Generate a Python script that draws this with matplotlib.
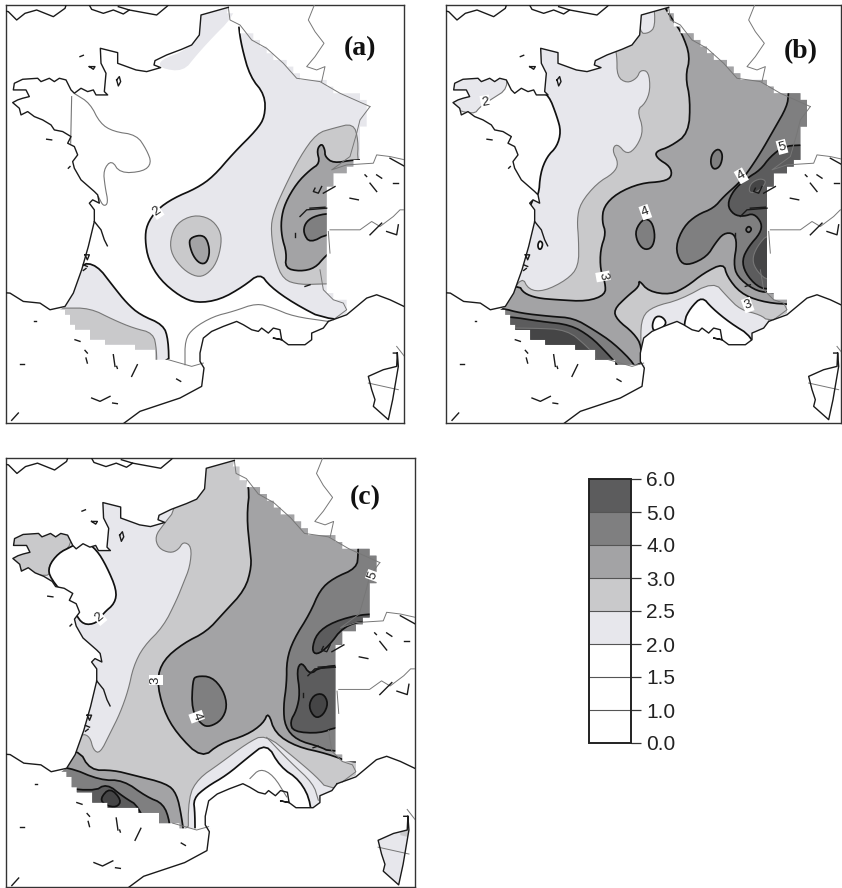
import numpy as np
import matplotlib
matplotlib.use("Agg")
import matplotlib.pyplot as plt
from matplotlib.colors import ListedColormap, BoundaryNorm
from matplotlib.cm import ScalarMappable
from matplotlib.patches import Polygon

# ---------- shared base map (panel (a) crop units) ----------
ATLANTIC = [(685,22),(603,45),(598,105),(575,135),(545,148),(500,165),(465,182),(462,195),(482,203),(440,215),
            (408,210),(353,190),(353,158),(301,145),(303,190),(318,220),(313,275),(323,285),(288,285),(280,270),
            (263,275),(243,265),(223,280),(213,270),(198,240),(178,235),(163,245),(148,235),(123,245),(113,235),
            (68,238),(43,250),(40,270),(63,270),(78,270),(88,290),(68,295),(53,300),(38,308),(58,325),(63,345),
            (83,335),(103,350),(128,360),(153,375),(163,390),(188,395),(213,410),(203,430),(223,440),(233,465),
            (218,485),(223,505),(243,540),(283,575),(293,585),(298,610),(278,600),(268,610),(283,630),(283,665),
            (265,740),(245,810),(220,880),(195,920)]
EAST_STAIR = [(685,30),(700,65),(730,95),(770,125),(800,145),(845,185),(885,225),(930,240),(980,250),(1020,280),
              (1080,280),(1112,320),(1095,375),(1080,410),(1080,490),(1060,490),(1020,520),(985,560),(985,620),
              (988,640),(988,880),(1040,915),(1050,935)]
MED = [(985,965),(970,985),(935,1000),(935,1020),(915,1035),(890,1035),(865,1035),(845,1020),(820,1015),(845,1020),
       (840,990),(820,985),(805,1000),(785,985),(775,995),(755,990),(730,975),(710,965),(670,980),(635,995),(610,1015),
       (600,1060),(600,1085),(612,1105)]
PYRENEES_STAIR = [(612,1100),(580,1095),(510,1085),(470,1078),(465,1050),(380,1040),(280,1020),(260,990),(210,980),
                  (205,945),(185,925)]
SPAIN_N = [(195,920),(150,930),(120,910),(70,905),(30,880),(0,878)]
SPAIN_E = [(612,1105),(605,1160),(540,1195),(420,1235),(370,1272)]
RIVIERA = [(985,965),(1040,945),(1100,895),(1130,885),(1170,900),(1212,920),(1280,950)]
GIRONDE = [(283,665),(303,690),(313,720),(322,738)]
ENGLAND = [[(0,30),(25,35),(50,60),(75,40),(110,30),(160,50),(195,25),(200,10)],
           [(265,10),(275,28),(310,40),(340,30),(370,42),(388,30),(355,20)],
           [(388,30),(470,45),(500,20),(510,10)]]
CORSICA = [(1180,1060),(1192,1060),(1190,1100),(1150,1110),(1105,1130),(1115,1170),(1125,1200),(1120,1220),(1165,1260),
           (1178,1200),(1195,1100),(1192,1060)]
FRAGMENTS = [[(240,170),(250,166)],[(268,200),(285,200),(280,208),(268,200)],
             [(350,240),(358,230),(362,245),(355,258),(350,240)],[(140,418),(155,420)],[(205,505),(210,500)],
             [(255,765),(268,765),(262,780),(255,765)],[(250,795),(262,800)],[(250,812),(258,806)],
             [(225,1020),(240,1025)],[(255,1052),(262,1060)],[(258,1075),(262,1090)],[(340,1065),(345,1100)],
             [(350,1100),(352,1106)],[(412,1095),(395,1130)],[(530,1138),(542,1145)],[(60,1092),(72,1092)],
             [(103,965),(108,965)],[(275,1195),(300,1205),(330,1190)],[(338,1210),(352,1212)],
             [(35,1262),(55,1240)],[(1130,525),(1145,535)],[(1110,550),(1130,575)],[(1180,550),(1195,550)],
             [(1095,525),(1100,530)],[(1050,595),(1075,600)],[(1110,705),(1145,670)],[(1160,695),(1190,705),(1195,675)],
             [(970,580),(1005,560)],[(945,565),(940,575),(955,580),(965,560)],[(1170,475),(1215,500)],
             [(900,650),(920,630),(980,625)],[(930,625),(975,622)],[(885,700),(885,712)],[(915,860),(930,855)]]
BORDERS = [[(945,10),(925,60),(945,95),(972,130),(945,170),(920,200),(950,210),(975,200),(965,245)],
           [(685,22),(690,60),(720,75),(755,120),(800,145),(850,190),(890,235),(960,245),(1020,280),(1110,320)],
           [(1110,320),(1080,360),(1070,400),(1050,470),(995,510),(1040,495),(1120,490),(1130,465),(1170,470),(1215,480),(1280,490)],
           [(1280,630),(1200,630),(1180,650),(1140,680),(1115,665),(1080,690),(1060,690),(990,690)],
           [(985,695),(990,760)],[(960,810),(970,870),(1000,900),(1030,910),(1040,930),(1000,960)],
           [(505,1080),(540,1090),(575,1100),(610,1090)],[(1105,1150),(1195,1170)],[(1190,1040),(1225,1085)]]

# ---------- panel (a) isoline regions ----------
A_NORTH = [(600,0),(600,100),(560,150),(480,180),(480,205),(550,215),(590,165),(640,110),(690,60),(720,0)]
A_GE2 = [(715,0),(715,75),(725,140),(750,230),(795,285),(795,350),(770,390),(700,460),(640,530),(590,565),(520,595),
         (470,630),(440,675),(435,720),(445,780),(480,840),(540,890),(590,910),(660,900),(730,860),(780,820),(810,860),
         (880,910),(985,965),(1300,970),(1300,0)]
A_SW2 = [(290,795),(340,860),(380,910),(420,945),(490,975),(505,1020),(507,1110),(100,1110),(100,950),(240,790)]
A_SW25 = [(100,925),(190,925),(270,925),(340,960),(400,985),(460,1000),(470,1050),(470,1110),(100,1110)]
A_C25 = [(510,720),(530,670),(580,645),(630,655),(660,690),(665,730),(650,790),(620,825),(590,832),(550,810),(515,765)]
A_C3 = [(568,735),(570,715),(600,705),(620,715),(630,755),(620,790),(600,792),(580,770)]
A_E25 = [(1060,370),(1000,385),(950,400),(900,470),(850,570),(820,640),(812,690),(825,780),(850,840),(900,855),(975,852),
         (1100,852),(1100,500),(1072,490),(1075,420)]
A_E3 = [(965,430),(950,450),(960,490),(930,510),(890,550),(855,610),(843,660),(845,710),(860,760),(855,805),(900,815),
        (945,805),(975,770),(995,755),(1100,755),(1100,480),(1060,480),(1000,490),(975,470),(975,450)]
A_E4 = [(940,650),(915,670),(910,700),(930,730),(985,700),(1100,700),(1100,640),(985,640)]
A_GRAY1 = [(225,282),(270,310),(300,370),(340,395),(410,405),(440,450),(455,490),(430,515),(360,520),(335,480),(310,510),
           (315,560),(325,610),(310,620),(295,590)]
A_GRAY1B = [(215,290),(212,430)]
A_GRAY2 = [(555,1095),(555,1020),(580,985),(640,950),(700,935),(770,910),(820,925),(880,950),(985,965)]

# ---------- panel (b) isoline regions ----------
B_GE2 = [(295,0),(295,275),(325,285),(350,350),(362,395),(350,440),(320,470),(300,520),(295,590),(270,600),(200,900),
         (100,1120),(1300,1120),(1300,0)]
B_BRIT = [(100,345),(120,320),(150,300),(205,265),(190,200),(20,200),(20,320)]
B_GE25 = [(590,0),(598,100),(625,100),(645,80),(640,0),(1300,0),(1300,965),(985,965),(960,945),(900,930),(860,890),
          (820,845),(720,900),(640,920),(605,950),(600,1020),(610,1120),(100,1120),(200,900),(245,830),(265,870),(310,875),
          (380,840),(415,800),(415,720),(410,660),(420,610),(470,550),(520,520),(535,490),(515,450),(530,430),(560,465),
          (590,440),(610,390),(590,330),(615,310),(630,270),(625,215),(600,210),(590,235),(560,250),(530,230),(530,165),
          (520,130)]
B_GE3 = [(660,0),(700,65),(725,100),(750,170),(735,230),(750,300),(745,400),(690,440),(645,455),(650,475),(690,500),
         (695,530),(670,545),(600,550),(530,580),(490,620),(485,665),(497,700),(480,750),(480,810),(495,850),(495,885),
         (440,905),(350,900),(290,895),(250,880),(235,855),(100,880),(100,1120),(600,1120),(605,1040),(580,1000),(530,960),
         (520,930),(560,890),(597,860),(595,840),(625,875),(690,885),(740,860),(790,820),(850,790),(860,830),(900,880),
         (960,905),(1040,915),(1300,915),(1300,0)]
B_SW4 = [(100,925),(185,925),(240,940),(330,950),(400,955),(460,990),(520,1030),(585,1095),(585,1120),(100,1120)]
B_SW5 = [(100,950),(205,950),(300,965),(390,975),(450,1010),(500,1060),(535,1100),(535,1120),(100,1120)]
B_SW6 = [(100,985),(280,985),(380,990),(440,1040),(470,1075),(470,1120),(100,1120)]
B_E4 = [(1045,200),(1045,280),(1040,320),(1000,390),(960,460),(920,520),(895,550),(850,590),(820,625),(770,645),(730,680),
        (705,740),(720,790),(750,795),(800,770),(825,730),(850,700),(880,700),(890,730),(880,790),(890,830),(940,870),
        (985,880),(1300,880),(1300,200)]
B_OV1 = [(810,490),(815,460),(835,445),(848,465),(840,500),(820,510)]
B_OV2 = [(585,690),(610,655),(635,665),(645,710),(635,745),(610,750),(590,725)]
B_E5 = [(1300,435),(1075,435),(1030,440),(990,470),(960,510),(920,535),(880,570),(860,615),(880,645),(910,650),(940,640),
        (965,670),(960,700),(925,740),(905,780),(915,820),(950,860),(985,870),(1300,870)]
B_E6 = [(1100,700),(985,700),(950,740),(935,780),(950,815),(985,845),(1100,845)]
B_E6B = [(925,580),(930,550),(960,535),(980,545),(955,575)]
B_COAST_WHITE = [(730,1100),(730,965),(750,925),(785,890),(815,925),(870,970),(935,1010),(970,1100)]
B_HOLE1 = [(635,975),(645,950),(665,950),(680,970),(660,990),(640,995)]
B_HOLE2 = [(292,735),(298,722),(308,730),(303,748),(295,748)]
B_RING = [(915,690),(925,678),(935,688),(925,700)]

# ---------- panel (c) isoline regions ----------
C_GE2 = [(0,0),(1300,0),(1300,1180),(0,1180)]
C_BRIT = [(20,200),(215,200),(215,290),(175,310),(145,350),(150,385),(20,350)]
C_WHITE = [(215,290),(175,310),(145,350),(150,385),(215,460),(225,490),(250,525),(290,520),(310,490),(345,460),(350,420),
           (320,350),(290,300),(250,270)]
C_GE25 = [(530,0),(530,175),(490,225),(465,260),(475,295),(510,310),(535,300),(550,275),(575,290),(570,350),(550,400),
          (530,450),(490,530),(430,590),(400,650),(385,720),(360,790),(330,850),(300,910),(280,900),(270,860),(245,850),
          (100,900),(100,1180),(565,1180),(565,1040),(595,985),(660,940),(740,880),(795,852),(880,920),(950,980),(985,1020),
          (1300,1020),(1300,0)]
C_WHITE_S = [(585,1180),(585,1090),(580,1045),(620,1010),(680,975),(740,925),(800,878),(840,950),(900,990),(935,1060),
             (935,1180)]
C_GE3 = [(710,0),(750,110),(740,200),(750,300),(755,350),(735,420),(670,490),(620,545),(550,580),(490,630),(470,690),
         (490,780),(530,850),(605,925),(660,880),(740,855),(790,820),(805,785),(825,850),(890,890),(980,910),(1060,940),
         (1300,940),(1300,0)]
C_SW3 = [(235,895),(270,960),(340,960),(400,975),(500,1000),(530,1030),(545,1100),(555,1180),(100,1180),(100,900)]
C_SW4 = [(100,945),(205,950),(300,990),(370,990),(440,1040),(490,1060),(510,1115),(510,1180),(100,1180)]
C_SW5 = [(100,1000),(280,1025),(320,1000),(370,1040),(420,1070),(450,1180),(100,1180)]
C_SW6 = [(300,1045),(330,1012),(365,1050),(350,1072),(315,1065)]
C_OV4 = [(578,690),(590,678),(635,680),(670,720),(682,770),(665,810),(630,830),(605,825),(575,780)]
C_E4 = [(1075,200),(1075,310),(1070,355),(1000,385),(960,420),(930,490),(880,570),(860,630),(860,700),(850,770),(855,830),
        (890,870),(960,890),(990,905),(1300,905),(1300,200)]
C_E5A = [(1300,490),(1095,490),(1000,515),(950,550),(935,600),(950,615),(985,590),(1030,530),(1100,510),(1300,510)]
C_E5B = [(905,635),(890,660),(900,730),(890,780),(870,815),(880,845),(960,850),(1010,830),(1100,830),(1100,640),(960,650),
         (930,675)]
C_OV6 = [(925,770),(940,735),(970,730),(985,760),(970,795),(945,805)]
C_GRAY1 = [(800,862),(870,935),(940,1000),(955,1050)]
C_GRAY2 = [(750,985),(780,955),(820,975),(860,1040)]
C_CORSICA_TOP = [(1170,1040),(1230,1040),(1230,1130),(1170,1115)]

# ---------- colour key ----------
LEVELS = [0.0, 1.0, 1.5, 2.0, 2.5, 3.0, 4.0, 5.0, 6.0]
BAND_COLORS = ["#ffffff", "#ffffff", "#ffffff", "#e7e7ec", "#c9c9cb", "#a3a3a5", "#7f7f80", "#5c5c5d"]
SHADE = {"w": "#ffffff", "2": "#e7e7ec", "25": "#c9c9cb", "3": "#a3a3a5", "4": "#7f7f80", "5": "#5c5c5d", "6": "#454546"}
THICK, THIN = ("#111111", 1.25), ("#777777", 0.8)
PANEL_LABELS = ["(a)", "(b)", "(c)"]

A_LAYERS = [(A_NORTH,"2",None),(A_GE2,"2",THICK),(A_SW2,"2",THICK),(A_SW25,"25",THIN),(A_C25,"25",THIN),(A_C3,"3",THICK),
            (A_E25,"25",THIN),(A_E3,"3",THICK),(A_E4,"4",THICK)]
B_LAYERS = [(B_GE2,"2",THICK),(B_BRIT,"2",THIN),(B_GE25,"25",THIN),(B_COAST_WHITE,"w",THICK),(B_HOLE1,"w",THICK),
            (B_HOLE2,"w",THICK),(B_GE3,"3",THICK),(B_SW4,"4",THICK),(B_SW5,"5",THICK),(B_SW6,"6",THIN),
            (B_E4,"4",THICK),(B_OV1,"4",THICK),(B_OV2,"4",THICK),(B_E5,"5",THICK),(B_E6,"6",THIN),(B_E6B,"6",THIN),
            (B_RING,"4",THICK)]
C_LAYERS = [(C_GE2,"2",None),(C_BRIT,"25",THIN),(C_WHITE,"w",THICK),(C_GE25,"25",THIN),(C_WHITE_S,"w",THICK),
            (C_GE3,"3",THICK),(C_SW3,"3",THICK),(C_SW4,"4",THICK),(C_SW5,"5",THICK),(C_SW6,"6",THICK),(C_OV4,"4",THICK),
            (C_E4,"4",THICK),(C_E5A,"5",THICK),(C_E5B,"5",THICK),(C_OV6,"6",THICK)]

A_LINES = [A_GRAY1, A_GRAY1B, A_GRAY2]
C_LINES = [C_GRAY1, C_GRAY2]
A_TEXT = [("2", 470, 635, 35)]
B_TEXT = [("2", 135, 307, 10), ("4", 615, 637, 20), ("3", 488, 830, -80), ("4", 903, 528, 30), ("5", 1025, 441, 15),
          ("3", 922, 916, 20)]
C_TEXT = [("3", 467, 690, 90), ("4", 590, 800, -70), ("5", 1120, 378, 70), ("2", 298, 503, 40)]


def smooth(pts, n=2):
    p = np.asarray(pts, float)
    for _ in range(n):
        q = np.roll(p, -1, axis=0)
        p = np.stack([0.75 * p + 0.25 * q, 0.25 * p + 0.75 * q], axis=1).reshape(-1, 2)
    return p


def smooth_open(pts, n=2):
    p = np.asarray(pts, float)
    for _ in range(n):
        a, b = p[:-1], p[1:]
        m = np.stack([0.75 * a + 0.25 * b, 0.25 * a + 0.75 * b], axis=1).reshape(-1, 2)
        p = np.vstack([p[0], m, p[-1]])
    return p


def stair(pts, step):
    out = []
    for (x0, y0), (x1, y1) in zip(pts[:-1], pts[1:]):
        k = max(2, int(np.hypot(x1 - x0, y1 - y0) / 3))
        for t in np.linspace(0, 1, k):
            x = round((x0 + (x1 - x0) * t) / step) * step
            y = round((y0 + (y1 - y0) * t) / step) * step
            if not out or out[-1] != (x, y):
                if out:
                    out.append((x, out[-1][1]))
                out.append((x, y))
    return out


# ring: Dunkirk -> stair-stepped east -> Mediterranean -> stair-stepped Pyrenees -> Atlantic back north
RING = stair(EAST_STAIR, 20.0) + MED + stair(PYRENEES_STAIR, 15.0) + list(reversed(ATLANTIC))

fig = plt.figure(figsize=(8.42, 8.88), dpi=100)
W, H = 842.0, 888.0


def panel(box, xlim, ylim, layers, lines, texts, label, label_xy, tf, corsica_fill=None):
    x0, y0, x1, y1 = box
    ax = fig.add_axes([x0 / W, 1 - y1 / H, (x1 - x0) / W, (y1 - y0) / H])
    ax.set_xlim(*xlim); ax.set_ylim(*ylim)
    ax.set_xticks([]); ax.set_yticks([])
    for s in ax.spines.values():
        s.set_linewidth(1.0); s.set_color("#333333")
    clip = Polygon(tf(RING), closed=True, transform=ax.transData, fc="none", ec="none")
    ax.add_patch(clip)
    for i, (pts, shade, line) in enumerate(layers):
        xy = tf(smooth(pts))
        p = Polygon(xy, closed=True, fc=SHADE[shade], ec="none", zorder=2 + i * 0.01)
        ax.add_patch(p); p.set_clip_path(clip)
        if line is not None:
            e = Polygon(xy, closed=True, fc="none", ec=line[0], lw=line[1], zorder=2 + i * 0.01 + 0.005)
            ax.add_patch(e); e.set_clip_path(clip)
    for pts in lines:
        xy = tf(smooth_open(pts))
        ax.plot(xy[:, 0], xy[:, 1], color=THIN[0], lw=THIN[1], zorder=3)
    for seg in BORDERS:
        xy = tf(seg)
        ax.plot(xy[:, 0], xy[:, 1], color="#777777", lw=0.7, zorder=4)
    if corsica_fill is not None:
        pc = Polygon(tf(CORSICA), closed=True, fc=SHADE["2"], ec="none", zorder=3.5)
        ax.add_patch(pc)
        top = Polygon(tf(corsica_fill), closed=True, fc=SHADE["25"], ec="none", zorder=3.6)
        ax.add_patch(top); top.set_clip_path(pc)
    for seg in [ATLANTIC + SPAIN_N, MED + SPAIN_E, RIVIERA, GIRONDE, CORSICA] + ENGLAND + FRAGMENTS:
        xy = tf(seg)
        ax.plot(xy[:, 0], xy[:, 1], color="#1a1a1a", lw=1.0, zorder=5, solid_joinstyle="round")
    for s, x, y, r in texts:
        q = tf([(x, y)])[0]
        ax.text(q[0], q[1], s, fontsize=9.5, family="Liberation Sans", rotation=r, ha="center", va="center", zorder=6,
                color="#222222", bbox=dict(fc="white", ec="none", pad=0.8))
    ax.text(label_xy[0], label_xy[1], label, family="Liberation Serif", fontweight="bold", fontsize=20,
            ha="center", va="center", color="#111111", zorder=7)
    return ax


def same(pts):
    return np.asarray(pts, float)


def zoomed(pts):
    p = np.asarray(pts, float)
    return np.column_stack([18 + (p[:, 0] - 18) * 1.027, 25 + (p[:, 1] - 15) * 1.027])


def to_map(pts):
    # panel (c) regions were read in its own crop units; convert back to the shared map units
    p = np.asarray(pts, float)
    return np.column_stack([18 + (p[:, 0] - 18) / 1.027, 15 + (p[:, 1] - 25) / 1.027])


panel((6, 5, 404, 423), (18, 1212), (1270, 15), A_LAYERS, A_LINES, A_TEXT, PANEL_LABELS[0], (1080, 145), same)
panel((446, 5, 841, 423), (17, 1202), (1270, 15), B_LAYERS, [], B_TEXT, PANEL_LABELS[1], (1080, 155), same)
c_layers = [(to_map(p), s, l) for p, s, l in C_LAYERS]
c_lines = [to_map(p) for p in C_LINES]
c_txt = [(s, 18 + (x - 18) / 1.027, 15 + (y - 25) / 1.027, r) for s, x, y, r in C_TEXT]
panel((6, 458, 415, 887), (18, 1245), (1310, 25), c_layers, c_lines, c_txt, PANEL_LABELS[2],
      (1095, 145), zoomed, corsica_fill=C_CORSICA_TOP)

# colour bar
cax = fig.add_axes([589 / W, 1 - 743 / H, 42 / W, 264 / H])
cmap = ListedColormap(BAND_COLORS)
norm = BoundaryNorm(LEVELS, cmap.N)
cb = fig.colorbar(ScalarMappable(norm=norm, cmap=cmap), cax=cax, spacing="uniform", ticks=LEVELS, drawedges=True)
cb.ax.set_yticklabels([f"{v:.1f}" for v in LEVELS], family="Liberation Sans", fontsize=15, color="#222222")
cb.ax.tick_params(length=7, width=0.9, pad=4, color="#333333")
cb.outline.set_linewidth(1.4); cb.outline.set_edgecolor("#222222")
cb.dividers.set_color("#555555"); cb.dividers.set_linewidth(0.8)

fig.savefig("out.png", dpi=100)
